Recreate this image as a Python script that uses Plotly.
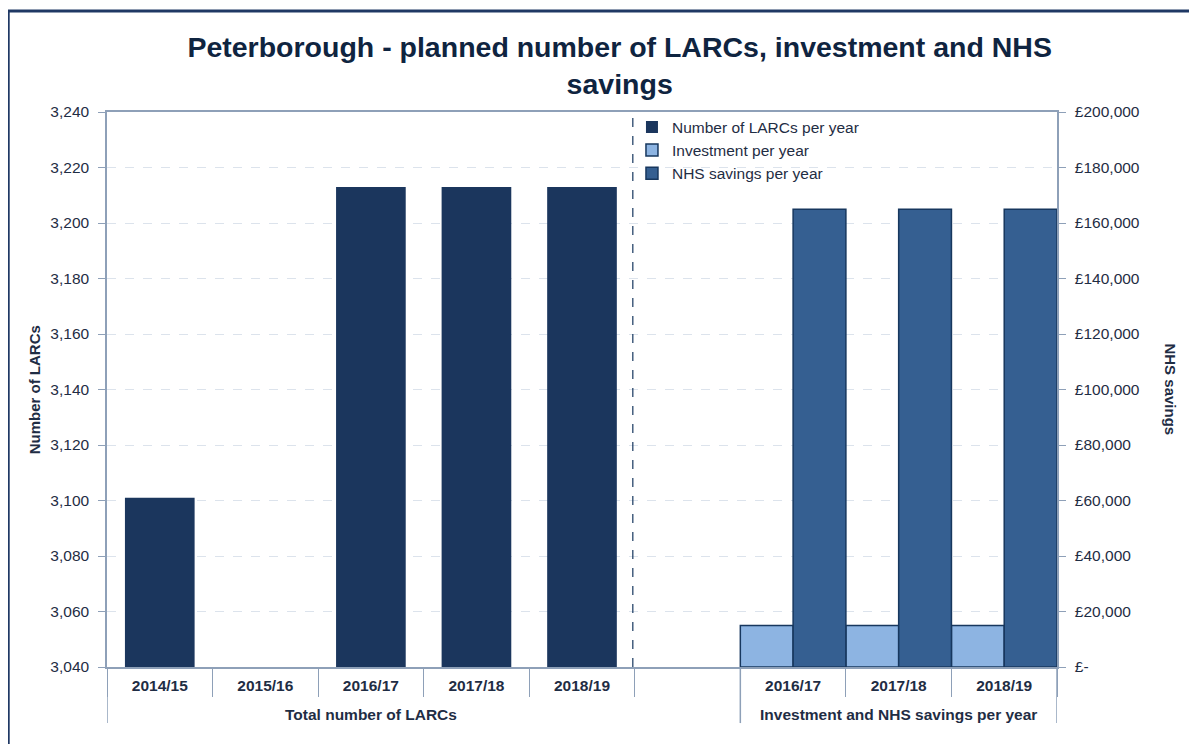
import plotly.graph_objects as go

# Data
group_names = ["Total number of LARCs", "Investment and NHS savings per year"]
years = ["2014/15", "2015/16", "2016/17", "2017/18", "2018/19", "", "2016/17", "2017/18", "2018/19"]
sections = ["L", "L", "L", "L", "L", "gap", "R", "R", "R"]
keys = [s + "|" + y for s, y in zip(sections, years)]

larc_values = [3101, None, 3213, 3213, 3213]
investment = [15000, 15000, 15000]
nhs_savings = [165000, 165000, 165000]

left_ticks = [3040, 3060, 3080, 3100, 3120, 3140, 3160, 3180, 3200, 3220, 3240]
right_ticks = [0, 20000, 40000, 60000, 80000, 100000, 120000, 140000, 160000, 180000, 200000]
right_text = ["£-" if v == 0 else "£{:,}".format(v) for v in right_ticks]

# Colours
NAVY = "#1B365D"
LIGHT = "#8DB4E2"
MID = "#355F91"
EDGE = "#17375E"
AXIS = "#8EA0B8"
TXT = "#1F2D44"
FONT = "Liberation Sans"

fig = go.Figure()

fig.add_trace(go.Bar(
    x=keys[:5], y=larc_values,
    name="Number of LARCs per year",
    marker=dict(color=NAVY, line=dict(width=0)),
    width=0.66, yaxis="y"
))
fig.add_trace(go.Bar(
    x=keys[6:], y=investment,
    name="Investment per year",
    marker=dict(color=LIGHT, line=dict(color=EDGE, width=1.5)),
    width=0.5, offset=-0.5, yaxis="y2"
))
fig.add_trace(go.Bar(
    x=keys[6:], y=nhs_savings,
    name="NHS savings per year",
    marker=dict(color=MID, line=dict(color=EDGE, width=1.5)),
    width=0.5, offset=0.0, yaxis="y2"
))

# page is drawn with an 8px body offset, margins compensate
fig.update_layout(
    width=1197, height=744,
    margin=dict(l=99, r=148, t=104, b=85),
    paper_bgcolor="white", plot_bgcolor="white",
    barmode="overlay",
    font=dict(family=FONT, size=15, color=TXT),
    title=dict(
        text="Peterborough - planned number of LARCs, investment and NHS<br>savings",
        x=0.511, xanchor="center", y=0.934, yanchor="top",
        font=dict(family=FONT, size=28.5, color="#0F2440", weight="bold")
    ),
    xaxis=dict(
        type="category", categoryorder="array", categoryarray=keys,
        tickmode="array", tickvals=keys, ticktext=years,
        range=[-0.5, len(keys) - 0.5],
        showline=True, linecolor=AXIS, linewidth=1.5, mirror=True,
        ticks="outside", tickson="boundaries", ticklen=28, tickcolor=AXIS,
        ticklabelstandoff=4,
        tickfont=dict(family=FONT, size=15.5, color=TXT, weight="bold"),
        showgrid=False
    ),
    yaxis=dict(
        range=[3040, 3240], tickvals=left_ticks, tickformat=",d",
        showline=True, linecolor=AXIS, linewidth=1.5, mirror=False,
        ticks="outside", ticklen=7, tickcolor=AXIS, ticklabelstandoff=6,
        showgrid=True, gridcolor="#DCE3EC", griddash="dash", gridwidth=1,
        zeroline=False,
        tickfont=dict(family=FONT, size=15.5, color=TXT)
    ),
    yaxis2=dict(
        overlaying="y", side="right",
        range=[0, 200000], tickvals=right_ticks, ticktext=right_text,
        showline=True, linecolor=AXIS, linewidth=1.5,
        ticks="outside", ticklen=7, tickcolor=AXIS, ticklabelstandoff=6,
        showgrid=False, zeroline=False,
        tickfont=dict(family=FONT, size=15.5, color=TXT)
    ),
    legend=dict(
        x=0.5526, y=1.003, xanchor="left", yanchor="top",
        bgcolor="rgba(255,255,255,0)",
        font=dict(family=FONT, size=15.5, color=TXT),
        tracegroupgap=0, itemwidth=30
    ),
    showlegend=True
)

# axis titles
fig.add_annotation(
    text="Number of LARCs", textangle=-90,
    xref="paper", yref="paper", x=-0.076, y=0.5, xanchor="center",
    showarrow=False,
    font=dict(family=FONT, size=15, color=TXT, weight="bold")
)
fig.add_annotation(
    text="NHS savings", textangle=90,
    xref="paper", yref="paper", x=1.119, y=0.5, xanchor="center",
    showarrow=False,
    font=dict(family=FONT, size=15, color=TXT, weight="bold")
)

# group labels and long dividers under the category axis
for name, idx in zip(group_names, [[0, 4], [6, 8]]):
    fig.add_annotation(
        text=name, xref="x", yref="paper",
        x=(idx[0] + idx[1]) / 2, y=-0.085, yanchor="middle",
        showarrow=False,
        font=dict(family=FONT, size=15.5, color=TXT, weight="bold")
    )
for edge in [-0.5, 5.5, 8.5]:
    fig.add_shape(
        type="line", xref="x", yref="paper",
        x0=edge, x1=edge, y0=0, y1=-0.101,
        line=dict(color=AXIS, width=1.5)
    )

# dashed separator between the two sections
fig.add_shape(
    type="line", xref="paper", yref="paper",
    x0=0.5535, x1=0.5535, y0=0, y1=1,
    line=dict(color=EDGE, width=1.2, dash="dash")
)

# outer frame (cut off at right and bottom like the original screenshot)
fig.add_shape(
    type="rect", xref="paper", yref="paper",
    x0=-0.104, x1=1.2, y0=-0.2, y1=1.182,
    line=dict(color="#1F3864", width=3)
)

fig.write_html("out.html")
